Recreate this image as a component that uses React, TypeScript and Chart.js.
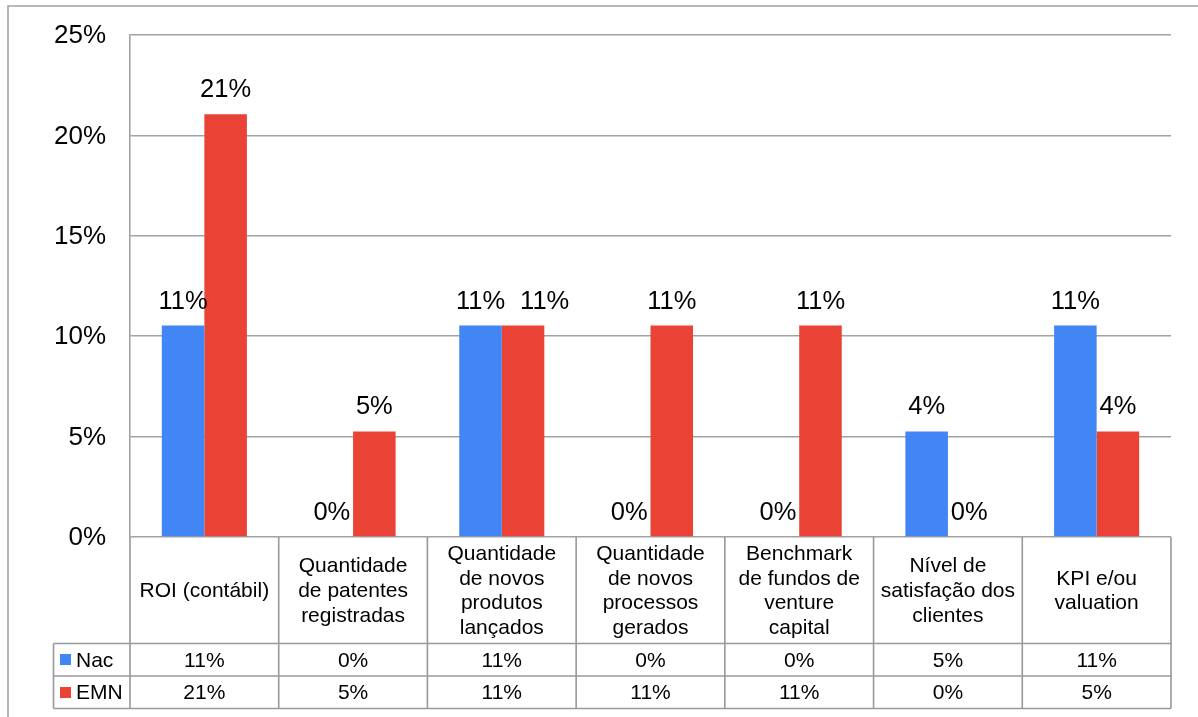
import React, { useEffect, useRef } from "react";
import { Chart, registerables } from "chart.js";

Chart.register(...registerables);

// Indicator categories (multi-line labels for the data table header)
const categories: string[][] = [
  ["ROI (contábil)"],
  ["Quantidade", "de patentes", "registradas"],
  ["Quantidade", "de novos", "produtos", "lançados"],
  ["Quantidade", "de novos", "processos", "gerados"],
  ["Benchmark", "de fundos de", "venture", "capital"],
  ["Nível de", "satisfação dos", "clientes"],
  ["KPI e/ou", "valuation"],
];

const seriesNames = ["Nac", "EMN"];

// Share of respondents (%) per indicator
const nacValues = [10.53, 0, 10.53, 0, 0, 5.26, 10.53];
const emnValues = [21.05, 5.26, 10.53, 10.53, 10.53, 0, 5.26];

// Texts printed above the bars
const nacBarLabels = ["11%", "0%", "11%", "0%", "0%", "4%", "11%"];
const emnBarLabels = ["21%", "5%", "11%", "11%", "11%", "0%", "4%"];

const yTicks = [0, 5, 10, 15, 20, 25];

const BLUE = "#4285f4";
const RED = "#ea4335";
const GRID = "#a2a2a2";
const TABLE_LINE = "#999999";
const FONT = "'Liberation Sans', Arial, sans-serif";
const LINE_W = 1.6;

const barLabelsPlugin = {
  id: "barLabels",
  afterDatasetsDraw(chart: any) {
    const ctx = chart.ctx;
    const texts = [nacBarLabels, emnBarLabels];
    ctx.save();
    ctx.font = `25.5px ${FONT}`;
    ctx.fillStyle = "#000";
    ctx.textAlign = "center";
    ctx.textBaseline = "alphabetic";
    const metas = chart.data.datasets.map((_: any, di: number) => chart.getDatasetMeta(di));
    const n = metas[0].data.length;
    for (let i = 0; i < n; i++) {
      // right edge of the previous label in this category, when at the same height
      let prevRight = -Infinity;
      let prevY = NaN;
      metas.forEach((meta: any, di: number) => {
        const bar = meta.data[i];
        const text = texts[di][i];
        const w = ctx.measureText(text).width;
        let x = bar.x;
        const y = bar.y - 17;
        if (Math.abs(y - prevY) < 20 && x - w / 2 < prevRight + 15) {
          x = prevRight + 15 + w / 2;
        }
        ctx.fillText(text, x, y);
        prevRight = x + w / 2;
        prevY = y;
      });
    }
    ctx.restore();
  },
};

const dataTablePlugin = {
  id: "dataTable",
  beforeDraw(chart: any) {
    const ctx = chart.ctx;
    ctx.save();
    ctx.strokeStyle = GRID;
    ctx.lineWidth = LINE_W;
    ctx.beginPath();
    ctx.moveTo(8, chart.height);
    ctx.lineTo(8, 6);
    ctx.lineTo(chart.width, 6);
    ctx.stroke();
    ctx.restore();
  },
  afterDraw(chart: any) {
    const ctx = chart.ctx;
    const area = chart.chartArea;
    const yScale = chart.scales.y;
    const n = categories.length;
    const colW = (area.right - area.left) / n;
    const headerTop = area.bottom;
    const headerBottom = headerTop + 106.5;
    const rowH = 32.5;
    const row1Bottom = headerBottom + rowH;
    const row2Bottom = row1Bottom + rowH;
    const legendLeft = 53.5;

    ctx.save();
    // value axis labels
    ctx.fillStyle = "#000";
    ctx.font = `26px ${FONT}`;
    ctx.textAlign = "right";
    ctx.textBaseline = "middle";
    yTicks.forEach((v) => {
      ctx.fillText(`${v}%`, area.left - 24, yScale.getPixelForValue(v) + 1);
    });

    ctx.strokeStyle = TABLE_LINE;
    ctx.lineWidth = LINE_W;
    ctx.beginPath();
    // horizontal rules
    for (const y of [headerBottom, row1Bottom, row2Bottom]) {
      ctx.moveTo(legendLeft, y);
      ctx.lineTo(area.right, y);
    }
    // column separators
    for (let k = 0; k <= n; k++) {
      const x = area.left + k * colW;
      ctx.moveTo(x, headerTop);
      ctx.lineTo(x, row2Bottom);
    }
    ctx.moveTo(legendLeft, headerBottom);
    ctx.lineTo(legendLeft, row2Bottom);
    ctx.stroke();

    ctx.fillStyle = "#000";
    ctx.font = `21px ${FONT}`;
    ctx.textAlign = "center";
    ctx.textBaseline = "middle";
    const lineH = 24.7;
    const headerMid = (headerTop + headerBottom) / 2 + 1;
    categories.forEach((lines, i) => {
      const cx = area.left + (i + 0.5) * colW;
      const y0 = headerMid - ((lines.length - 1) * lineH) / 2;
      lines.forEach((ln, j) => ctx.fillText(ln, cx, y0 + j * lineH));
    });

    const rows = [
      { name: seriesNames[0], color: BLUE, values: nacValues, top: headerBottom },
      { name: seriesNames[1], color: RED, values: emnValues, top: row1Bottom },
    ];
    rows.forEach((r) => {
      const mid = r.top + rowH / 2 + 1;
      r.values.forEach((v, i) => {
        const cx = area.left + (i + 0.5) * colW;
        ctx.textAlign = "center";
        ctx.fillText(`${Math.round(v)}%`, cx, mid);
      });
      ctx.fillStyle = r.color;
      ctx.fillRect(60, Math.round(mid - 6.5), 11, 11);
      ctx.fillStyle = "#000";
      ctx.textAlign = "left";
      ctx.fillText(r.name, 76, mid);
    });
    ctx.restore();
  },
};

export default function App() {
  const canvasRef = useRef<HTMLCanvasElement | null>(null);

  useEffect(() => {
    if (!canvasRef.current) return;
    const chart = new Chart(canvasRef.current, {
      type: "bar",
      data: {
        labels: categories,
        datasets: [
          {
            label: seriesNames[0],
            data: nacValues,
            backgroundColor: BLUE,
            borderWidth: 0,
            categoryPercentage: 0.572,
            barPercentage: 1,
          },
          {
            label: seriesNames[1],
            data: emnValues,
            backgroundColor: RED,
            borderWidth: 0,
            categoryPercentage: 0.572,
            barPercentage: 1,
          },
        ],
      },
      options: {
        responsive: false,
        animation: false,
        devicePixelRatio: 1,
        layout: { padding: { left: 0, top: 35, right: 27, bottom: 180 } },
        plugins: {
          legend: { display: false },
          tooltip: { enabled: false },
        },
        scales: {
          x: { display: false },
          y: {
            min: 0,
            max: 25,
            afterFit(scale: any) {
              scale.width = 130;
            },
            afterBuildTicks(scale: any) {
              scale.ticks = yTicks.map((v) => ({ value: v }));
            },
            grid: { color: GRID, lineWidth: LINE_W, drawTicks: false },
            border: { color: GRID, width: LINE_W },
            ticks: { display: false },
          },
        },
      },
      plugins: [barLabelsPlugin, dataTablePlugin],
    });
    return () => chart.destroy();
  }, []);

  return (
    <div
      style={{
        position: "fixed",
        left: 0,
        top: 0,
        width: 1198,
        height: 717,
        background: "#fff",
      }}
    >
      <canvas ref={canvasRef} width={1198} height={717} style={{ width: 1198, height: 717 }} />
    </div>
  );
}
